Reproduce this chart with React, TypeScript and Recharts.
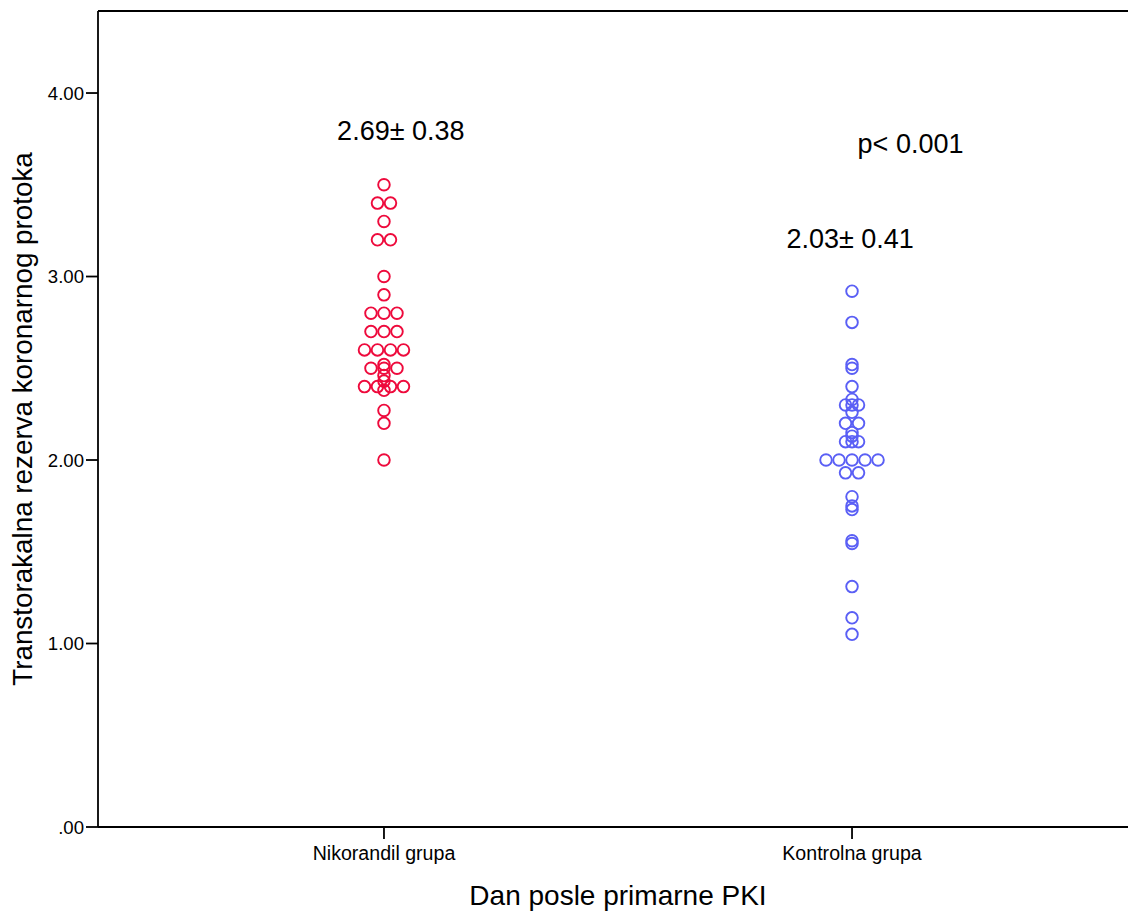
import React from 'react';
import { ScatterChart, Scatter, XAxis, YAxis, ReferenceLine, ReferenceDot } from 'recharts';

// Categories
const categories = ['Nikorandil grupa', 'Kontrolna grupa'];
const yTicks = [0, 1, 2, 3, 4];
const Y_MAX = 4.447;
const X_DOMAIN: [number, number] = [0.389, 2.611];

// Nikorandil grupa values and horizontal stacking slots (in marker widths)
const nikorandilValues = [
  3.5, 3.4, 3.4, 3.3, 3.2, 3.2, 3.0, 2.9,
  2.8, 2.8, 2.8, 2.7, 2.7, 2.7,
  2.6, 2.6, 2.6, 2.6,
  2.52, 2.5, 2.5, 2.5, 2.46, 2.43,
  2.4, 2.4, 2.4, 2.4, 2.38,
  2.27, 2.2, 2.0,
];
const nikorandilSlots = [
  0, -0.5, 0.5, 0, -0.5, 0.5, 0, 0,
  -1, 0, 1, -1, 0, 1,
  -1.5, -0.5, 0.5, 1.5,
  0, -1, 0, 1, 0, 0,
  -1.5, -0.5, 0.5, 1.5, 0,
  0, 0, 0,
];

// Kontrolna grupa values and slots
const kontrolnaValues = [
  2.92, 2.75, 2.52, 2.5, 2.4, 2.33,
  2.3, 2.3, 2.3, 2.26, 2.2, 2.2, 2.15, 2.13,
  2.1, 2.1, 2.1,
  2.0, 2.0, 2.0, 2.0, 2.0,
  1.93, 1.93, 1.8, 1.75, 1.73, 1.56, 1.545, 1.31, 1.14, 1.05,
];
const kontrolnaSlots = [
  0, 0, 0, 0, 0, 0,
  -0.5, 0, 0.5, 0, -0.5, 0.5, 0, 0,
  -0.5, 0, 0.5,
  -2, -1, 0, 1, 2,
  -0.5, 0.5, 0, 0, 0, 0, 0, 0, 0, 0,
];

// Annotations
const annotations = [
  { x: 1.036, y: 3.744, text: '2.69\u00b1 0.38' },
  { x: 2.125, y: 3.673, text: 'p< 0.001' },
  { x: 1.996, y: 3.155, text: '2.03\u00b1 0.41' },
];

const RED = '#ee0a3c';
const BLUE = '#5a5ff5';
const FONT = '"Liberation Sans", Arial, Helvetica, sans-serif';
const SLOT_PX = 13;

const nikorandilData = nikorandilValues.map((v, i) => ({ x: 1, y: v, slot: nikorandilSlots[i] }));
const kontrolnaData = kontrolnaValues.map((v, i) => ({ x: 2, y: v, slot: kontrolnaSlots[i] }));

const makeShape = (color: string) => (props: any) => {
  const { cx, cy, payload } = props;
  if (cx == null || cy == null) return <g />;
  return (
    <circle
      cx={cx + (payload?.slot ?? 0) * SLOT_PX}
      cy={cy}
      r={5.8}
      fill="none"
      stroke={color}
      strokeWidth={1.9}
    />
  );
};

const yFmt = (v: number) => (v === 0 ? '.00' : v.toFixed(2));
const xFmt = (v: number) => categories[Math.round(v) - 1] ?? '';

const XTick = (p: any) => (
  <text x={p.x} y={860} textAnchor="middle" fontSize={19.6} fontFamily={FONT} fill="#000">
    {xFmt(p.payload.value)}
  </text>
);
const YTick = (p: any) => (
  <text x={84} y={p.y} dy="0.36em" textAnchor="end" fontSize={18.6} fontFamily={FONT} fill="#000">
    {yFmt(p.payload.value)}
  </text>
);

export default function App() {
  return (
    <div style={{ position: 'absolute', left: 0, top: 0, width: 1128, height: 913, overflow: 'hidden', background: '#fff' }}>
      <ScatterChart width={1138} height={913} margin={{ top: 11, right: 0, bottom: 0, left: 0 }} style={{ fontFamily: FONT }}>
        <XAxis
          type="number"
          dataKey="x"
          domain={X_DOMAIN}
          ticks={[1, 2]}
          allowDataOverflow
          height={86}
          stroke="#000"
          strokeWidth={1.8}
          tickSize={12}
          tick={XTick}
          tickLine={{ stroke: '#000', strokeWidth: 1.8 }}
          label={(p: any) => {
            const vb = p.viewBox || {};
            return (
              <text x={vb.x + vb.width / 2} y={905} textAnchor="middle" fontSize={28} fontFamily={FONT} fill="#000">
                Dan posle primarne PKI
              </text>
            );
          }}
        />
        <YAxis
          type="number"
          dataKey="y"
          domain={[0, Y_MAX]}
          ticks={yTicks}
          allowDataOverflow
          width={98}
          stroke="#000"
          strokeWidth={1.8}
          tickSize={12}
          tick={YTick}
          tickLine={{ stroke: '#000', strokeWidth: 1.8 }}
          label={(p: any) => {
            const vb = p.viewBox || {};
            const cx = 32;
            const cy = vb.y + vb.height / 2;
            return (
              <text x={cx} y={cy} transform={`rotate(-90 ${cx} ${cy})`} textAnchor="middle" fontSize={27.8} fontFamily={FONT} fill="#000">
                Transtorakalna rezerva koronarnog protoka
              </text>
            );
          }}
        />
        <ReferenceLine y={Y_MAX} stroke="#000" strokeWidth={1.8} />
        <Scatter data={nikorandilData} isAnimationActive={false} shape={makeShape(RED)} />
        <Scatter data={kontrolnaData} isAnimationActive={false} shape={makeShape(BLUE)} />
        {annotations.map((a, i) => (
          <ReferenceDot
            key={i}
            x={a.x}
            y={a.y}
            r={0}
            isFront
            shape={(p: any) => (
              <text x={p.cx} y={p.cy} textAnchor="middle" fontSize={27} fontFamily={FONT} fill="#000">
                {a.text}
              </text>
            )}
          />
        ))}
      </ScatterChart>
    </div>
  );
}
